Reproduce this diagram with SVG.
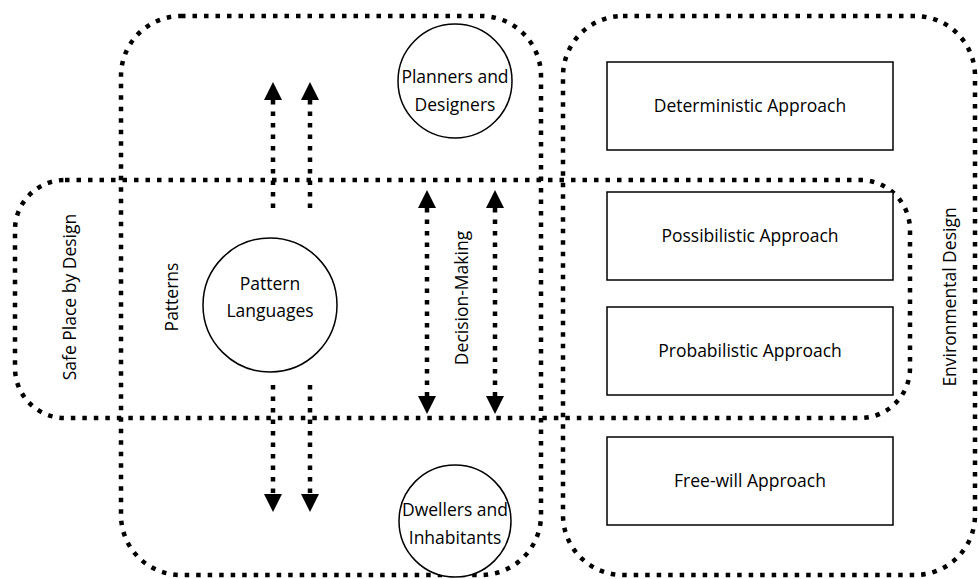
<svg xmlns="http://www.w3.org/2000/svg" width="978" height="579" viewBox="0 0 978 579">
<style>
.grp{fill:none;stroke:#000;stroke-width:4.5;stroke-dasharray:4.5 7}
.conn{fill:none;stroke:#000;stroke-width:4.5;stroke-dasharray:4.5 7}
.node{fill:#fff;stroke:#000;stroke-width:1.5}
text{font-family:"Open Sans","Liberation Sans",sans-serif;font-size:17.5px;fill:#000;text-anchor:middle}
</style>
<defs>
<marker id="ah" viewBox="0 0 10 10" refX="0" refY="5" markerWidth="4" markerHeight="4" markerUnits="strokeWidth" orient="auto-start-reverse">
<path d="M0,0 L10,5 L0,10 z" fill="#000"/>
</marker>
</defs>
<g id="groups">
<rect id="box-a" class="grp" x="121" y="16" width="420" height="559" rx="60"/>
<rect id="box-b" class="grp" x="563" y="16" width="412" height="559" rx="60"/>
<rect id="box-c" class="grp" x="15" y="180" width="895" height="238" rx="50"/>
</g>
<g id="connectors">
<path class="conn" d="M273,208 V100" marker-end="url(#ah)"/>
<path class="conn" d="M310,208 V100" marker-end="url(#ah)"/>
<path class="conn" d="M273,385 V494" marker-end="url(#ah)"/>
<path class="conn" d="M310,385 V494" marker-end="url(#ah)"/>
<path class="conn" d="M427,208 V396" marker-start="url(#ah)" marker-end="url(#ah)"/>
<path class="conn" d="M495,208 V396" marker-start="url(#ah)" marker-end="url(#ah)"/>
</g>
<g id="pattern-languages">
<circle class="node" cx="270" cy="305" r="67"/>
<text x="270" y="290">Pattern</text>
<text x="270" y="317">Languages</text>
</g>
<g id="planners">
<circle class="node" cx="455" cy="81" r="57"/>
<text x="455" y="83">Planners and</text>
<text x="455" y="111">Designers</text>
</g>
<g id="dwellers">
<circle class="node" cx="455" cy="521" r="56"/>
<text x="455" y="516">Dwellers and</text>
<text x="455" y="544">Inhabitants</text>
</g>
<g id="deterministic">
<rect class="node" x="607" y="62" width="286" height="88"/>
<text x="750" y="112">Deterministic Approach</text>
</g>
<g id="possibilistic">
<rect class="node" x="607" y="192" width="286" height="88"/>
<text x="750" y="242">Possibilistic Approach</text>
</g>
<g id="probabilistic">
<rect class="node" x="607" y="307" width="286" height="88"/>
<text x="750" y="357">Probabilistic Approach</text>
</g>
<g id="freewill">
<rect class="node" x="607" y="437" width="286" height="88"/>
<text x="750" y="487">Free-will Approach</text>
</g>
<g id="labels">
<text transform="translate(76,297) rotate(-90)">Safe Place by Design</text>
<text transform="translate(178,297) rotate(-90)">Patterns</text>
<text transform="translate(468,298) rotate(-90)">Decision-Making</text>
<text transform="translate(956,297) rotate(-90)">Environmental Design</text>
</g>
</svg>
